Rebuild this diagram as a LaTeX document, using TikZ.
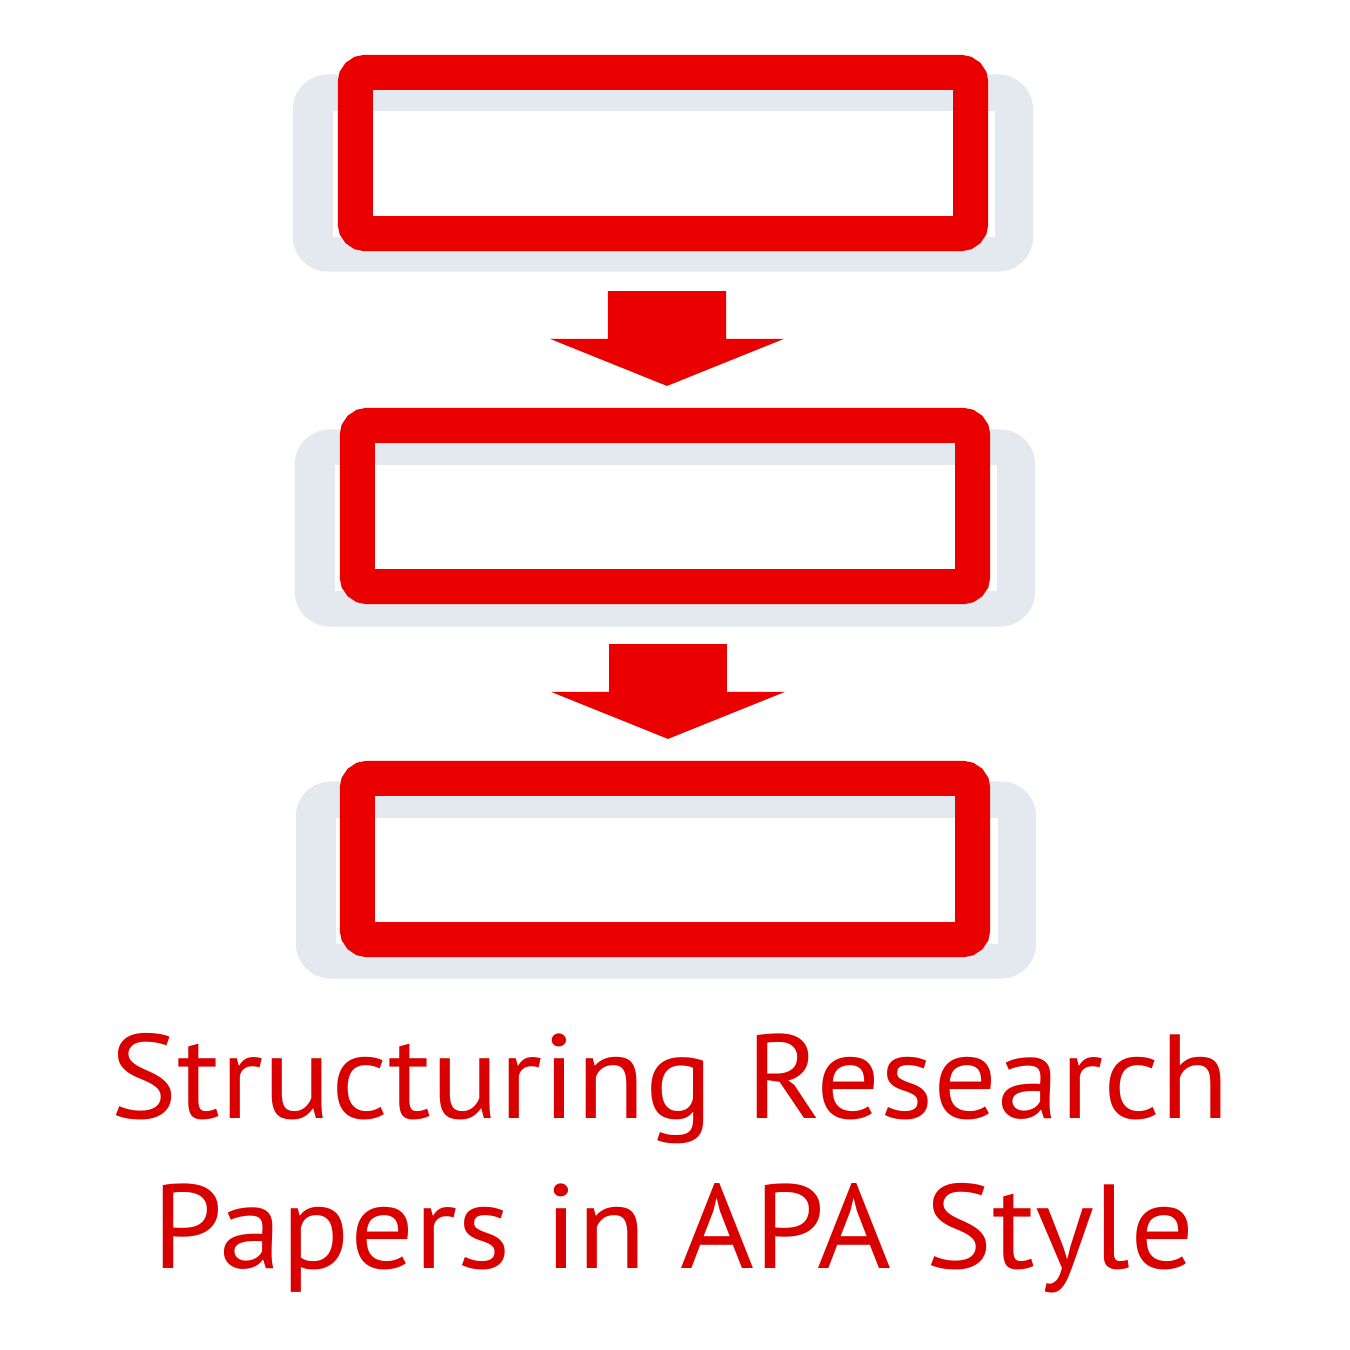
\documentclass[tikz,border=0pt]{standalone}
\usepackage{fontspec}
\setmainfont{PT Sans}[FakeStretch=1.057]
\usepackage{xcolor}
\usetikzlibrary{arrows.meta,positioning,calc}

\definecolor{boxred}{HTML}{EB0000}
\definecolor{titlered}{HTML}{D90000}
\definecolor{shadowgray}{HTML}{E4E9F0}

\begin{document}
\begin{tikzpicture}[
    x=0.01cm, y=-0.01cm,
    shadowbox/.style={fill=shadowgray, minimum width=7.4cm, minimum height=1.97cm, rounded corners=0.35cm, inner sep=0pt, outer sep=0pt},
    fillbox/.style={fill=white, minimum width=6.62cm, minimum height=1.25cm, inner sep=0pt, outer sep=0pt},
    stepbox/.style={draw=boxred, line width=0.35cm, minimum width=6.15cm, minimum height=1.61cm, rounded corners=0.1cm, inner sep=0pt},
    blockarrow/.style={draw=boxred, line width=1.18cm, -{Triangle[length=0.47cm, width=2.32cm]}},
    title/.style={text=titlered, anchor=base, font=\fontsize{34}{42}\selectfont}
]
    \useasboundingbox (0,0) rectangle (1350,1350);

    % Shadows behind the steps
    \node[shadowbox] (shadow1) at (663,173) {};
    \node[shadowbox] (shadow2) at (665,528) {};
    \node[shadowbox] (shadow3) at (666,880) {};

    % White fills
    \node[fillbox] (fill1) at (664,174) {};
    \node[fillbox] (fill2) at (666,528) {};
    \node[fillbox] (fill3) at (667,881) {};

    % Steps
    \node[stepbox] (step1) at (663,153) {};
    \node[stepbox] (step2) at (665,506) {};
    \node[stepbox] (step3) at (665,859) {};

    % Arrows between steps
    \draw[blockarrow] ([xshift=0.04cm, yshift=-0.4cm]step1.south) -- ([xshift=0.02cm, yshift=0.22cm]step2.north);
    \draw[blockarrow] ([xshift=0.03cm, yshift=-0.4cm]step2.south) -- ([xshift=0.03cm, yshift=0.22cm]step3.north);

    % Title
    \node[title] (title1) at (670,1118) {Structuring Research};
    \node[title] (title2) at (674,1268) {Papers in APA Style};
\end{tikzpicture}
\end{document}
